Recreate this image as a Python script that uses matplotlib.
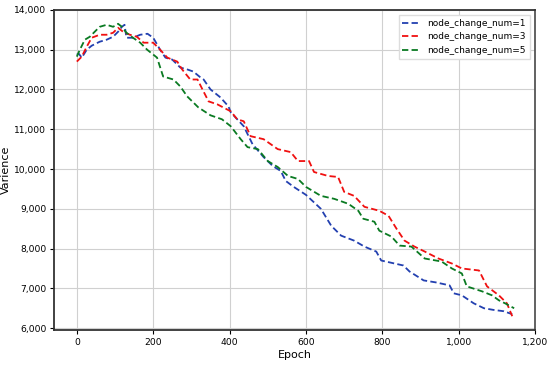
import matplotlib
matplotlib.use("Agg")
import matplotlib.pyplot as plt
from matplotlib.ticker import FuncFormatter

# values
ep_1 = [0, 5, 13, 26, 39, 60, 78, 95, 108, 118, 125, 130, 147, 166, 185, 200, 218, 232, 250, 271,
        290, 305, 324, 332, 350, 376, 397, 403, 420, 437, 460, 489, 513, 534, 547, 568, 600,
        639, 666, 692, 726, 753, 784, 797, 855, 871, 908, 940, 976, 987, 1008, 1039, 1066, 1090,
        1118, 1140]
var_1 = [12875, 12900, 12800, 13000, 13100, 13200, 13250, 13325, 13450, 13575, 13625, 13300,
         13300, 13375, 13400, 13300, 13000, 12800, 12750, 12550, 12500, 12450, 12300, 12250,
         12000, 11800, 11575, 11425, 11250, 11075, 10625, 10300, 10075, 9950, 9700, 9550,
         9350, 9000, 8575, 8325, 8200, 8050, 7925, 7700, 7575, 7425, 7200, 7150, 7075, 6875,
         6825, 6625, 6500, 6460, 6425, 6350]

ep_3 = [0, 13, 26, 39, 60, 78, 95, 108, 121, 139, 157, 175, 200, 218, 237, 263, 276, 297, 316,
        329, 345, 368, 403, 420, 437, 455, 489, 526, 560, 579, 608, 621, 658, 684, 700, 726,
        753, 792, 816, 837, 858, 884, 911, 947, 982, 1008, 1053, 1074, 1105, 1126, 1140]
var_3 = [12700, 12825, 13075, 13300, 13375, 13375, 13425, 13550, 13450, 13375, 13325, 13175,
         13175, 13000, 12800, 12700, 12500, 12250, 12250, 12000, 11700, 11625, 11450, 11250,
         11200, 10825, 10750, 10500, 10425, 10200, 10200, 9925, 9825, 9800, 9425, 9325, 9050,
         8950, 8825, 8500, 8200, 8050, 7925, 7750, 7625, 7500, 7450, 7050, 6825, 6625, 6300]

ep_5 = [0, 8, 21, 34, 52, 60, 78, 95, 108, 118, 130, 147, 166, 184, 210, 226, 253, 271, 289,
        318, 350, 380, 403, 429, 447, 474, 500, 526, 553, 579, 600, 639, 674, 711, 737, 750,
        779, 792, 824, 845, 876, 911, 955, 982, 1008, 1021, 1061, 1087, 1105, 1121, 1145]
var_5 = [12825, 13000, 13250, 13325, 13500, 13575, 13625, 13575, 13650, 13575, 13425, 13300,
         13175, 13000, 12800, 12325, 12250, 12075, 11825, 11550, 11350, 11250, 11075, 10750,
         10550, 10500, 10200, 10050, 9825, 9750, 9550, 9325, 9250, 9125, 8950, 8750, 8675,
         8450, 8300, 8075, 8050, 7750, 7675, 7500, 7375, 7050, 6925, 6825, 6700, 6625, 6500]

labels = ["node_change_num=1", "node_change_num=3", "node_change_num=5"]
colors = ["#2340b0", "#f01010", "#0a7a22"]

fig = plt.figure(figsize=(5.5, 3.66), dpi=100)
ax = fig.add_axes([0.098, 0.098, 0.875, 0.875])

for x, y, lab, c in zip([ep_1, ep_3, ep_5], [var_1, var_3, var_5], labels, colors):
    ax.plot(x, y, linestyle=(0, (3.5, 1.8)), color=c, linewidth=1.3, label=lab)

ax.set_xlim(-60, 1200)
ax.set_ylim(5950, 14000)
ax.set_xticks(range(0, 1201, 200))
ax.set_yticks(range(6000, 14001, 1000))
fmt = FuncFormatter(lambda v, p: f"{int(v):,}")
ax.xaxis.set_major_formatter(fmt)
ax.yaxis.set_major_formatter(fmt)
ax.tick_params(labelsize=6.6, length=3, width=0.8, pad=2.5)
ax.grid(True, color="#d0d0d0", linewidth=0.8)
ax.set_xlabel("Epoch", fontsize=8, labelpad=2)
ax.set_ylabel("Varience", fontsize=8, labelpad=2)

for s in ["left", "bottom", "top"]:
    ax.spines[s].set_color("#333333")
    ax.spines[s].set_linewidth(1.3)
ax.spines["right"].set_color("#555555")
ax.spines["right"].set_linewidth(1.3)

leg = ax.legend(loc="upper right", fontsize=6.5, handlelength=2.0, framealpha=1,
                edgecolor="#dddddd", fancybox=False, borderaxespad=0.6)

fig.savefig("out.png", dpi=100)
